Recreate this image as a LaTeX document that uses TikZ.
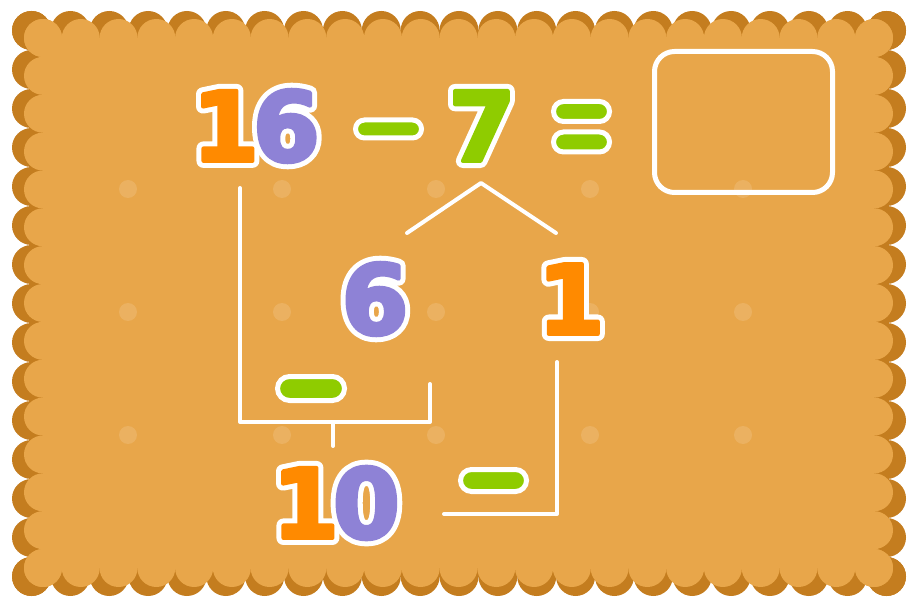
\documentclass[tikz,border=0pt]{standalone}
\usepackage{fontspec}
\newfontfamily\dfont{DejaVu Sans}
\usetikzlibrary{shapes.misc}
\definecolor{crustdark}{HTML}{C47D1F}
\definecolor{crustlight}{HTML}{E8A64A}
\definecolor{dotcol}{HTML}{EBB161}
\definecolor{numorange}{HTML}{FF8A00}
\definecolor{numpurple}{HTML}{8E82D6}
\definecolor{numgreen}{HTML}{8FCC00}
\newcommand\dc[2]{\textcolor{#1}{#2}}
\newcommand\plaindc[2]{#2}
\newcommand\outnum[1]{\leavevmode\rlap{\let\dc\plaindc\color{white}\special{pdf:literal direct 1 j 2 Tr 14 w}#1}\special{pdf:literal direct 1 j 2 Tr 4 w}#1\special{pdf:literal direct 0 Tr}}
\tikzset{
  numtext/.style={inner sep=0pt, font=\dfont\bfseries\fontsize{96}{96}\selectfont},
  bar/.style={rounded rectangle, fill=numgreen, draw=white, line width=5pt, inner sep=0pt},
  link/.style={draw=white, line width=4pt, line cap=round, line join=round},
  answerbox/.style={draw=white, line width=5pt, rounded corners=20pt}
}
\begin{document}
\begin{tikzpicture}[x=1pt,y=-1pt]
\useasboundingbox (0,0) rectangle (915,609);
% biscuit dark layer
\fill[crustdark] (31.5,30.5) rectangle (886.5,576.5);
\foreach \i in {0,...,22}{
  \fill[crustdark] ({31.5+\i*38.8636},30.5) circle (19.5pt);
  \fill[crustdark] ({31.5+\i*38.8636},576.5) circle (19.5pt);
}
\foreach \j in {0,...,14}{
  \fill[crustdark] (31.5,{30.5+\j*39}) circle (19.5pt);
  \fill[crustdark] (886.5,{30.5+\j*39}) circle (19.5pt);
}
% biscuit light layer
\fill[crustlight] (43,38) rectangle (874,568);
\foreach \i in {0,...,22}{
  \fill[crustlight] ({43+\i*37.7727},38) circle (19pt);
  \fill[crustlight] ({43+\i*37.7727},568) circle (19pt);
}
\foreach \j in {0,...,14}{
  \fill[crustlight] (43,{38+\j*37.8571}) circle (19pt);
  \fill[crustlight] (874,{38+\j*37.8571}) circle (19pt);
}
% faint dots
\foreach \x in {128,282,436,590,743}{
  \foreach \y in {189,312,435}{
    \fill[dotcol] (\x,\y) circle (9pt);
  }
}
% answer box
\draw[answerbox] (654.5,51.5) rectangle (832.5,192.5);
% equation
\node[numtext] (n16) at (256,126) {\outnum{\dc{numorange}{1}\kern-6pt\dc{numpurple}{6}}};
\node[bar, minimum width=66pt, minimum height=18pt] (m1) at (388.5,129) {};
\node[numtext] (n7) at (482,126) {\outnum{\dc{numgreen}{7}}};
\node[bar, minimum width=56pt, minimum height=20pt] (eqa) at (581.5,111.5) {};
\node[bar, minimum width=56pt, minimum height=20pt] (eqb) at (581.5,142) {};
% split of 7
\node[numtext] (n6) at (375,299) {\outnum{\dc{numpurple}{6}}};
\node[numtext] (n1) at (571,299) {\outnum{\dc{numorange}{1}}};
\coordinate (apex) at (481,183);
\coordinate (vl) at (407,233);
\coordinate (vr) at (556,233);
\draw[link] (vl) -- (apex) -- (vr);
% left bracket
\coordinate (bl) at (240,188);
\coordinate (blc) at (240,422);
\coordinate (brc) at (430,422);
\coordinate (br) at (430,384);
\coordinate (stemtop) at (333,422);
\coordinate (stembot) at (333,446);
\draw[link] (bl) -- (blc) -- (brc) -- (br);
\draw[link] (stemtop) -- (stembot);
\node[bar, minimum width=67pt, minimum height=24pt] (m2) at (311,388.5) {};
\node[numtext] (n10) at (336,503) {\outnum{\dc{numorange}{1}\kern-6pt\dc{numpurple}{0}}};
% right bracket
\coordinate (rt) at (557,362);
\coordinate (rc) at (557,514);
\coordinate (rl) at (444,514);
\draw[link] (rt) -- (rc) -- (rl);
\node[bar, minimum width=66pt, minimum height=22pt] (m3) at (493.5,480.5) {};
\end{tikzpicture}
\end{document}
